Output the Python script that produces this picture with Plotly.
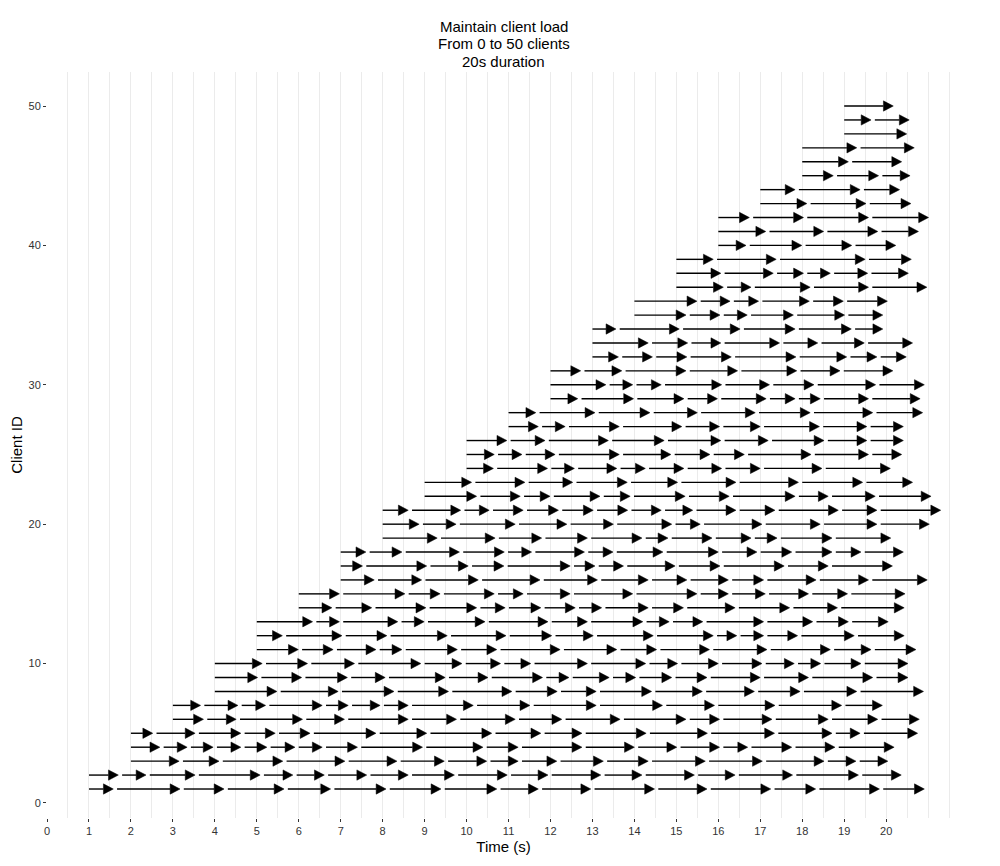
import plotly.graph_objects as go

# Client start times (s)
client_start = {
    1: 1, 2: 1, 3: 2, 4: 2, 5: 2, 6: 3, 7: 3, 8: 4, 9: 4, 10: 4,
    11: 5, 12: 5, 13: 5, 14: 6, 15: 6, 16: 7, 17: 7, 18: 7, 19: 8, 20: 8,
    21: 8, 22: 9, 23: 9, 24: 10, 25: 10, 26: 10, 27: 11, 28: 11, 29: 12, 30: 12,
    31: 12, 32: 13, 33: 13, 34: 13, 35: 14, 36: 14, 37: 15, 38: 15, 39: 15, 40: 16,
    41: 16, 42: 16, 43: 17, 44: 17, 45: 18, 46: 18, 47: 18, 48: 19, 49: 19, 50: 19,
}

# Response (end) times of each successive request per client (s)
request_ends = {
    1: [1.58, 3.17, 4.22, 5.65, 6.76, 8.08, 9.39, 10.72, 11.71, 12.96, 14.48, 15.73, 17.25, 18.32, 19.84, 20.91],
    2: [1.70, 2.36, 3.53, 5.08, 5.86, 6.61, 7.62, 8.61, 9.71, 10.97, 11.94, 13.20, 14.18, 15.43, 16.40, 17.77, 19.34, 20.36],
    3: [3.15, 4.10, 5.62, 7.10, 8.34, 9.47, 10.48, 11.23, 12.15, 13.26, 14.33, 15.69, 17.05, 18.52, 19.28, 20.04],
    4: [2.69, 3.34, 3.96, 4.62, 5.24, 5.91, 6.56, 7.40, 8.95, 10.39, 11.23, 12.75, 14.00, 15.01, 16.03, 16.70, 17.75, 18.78, 20.19],
    5: [2.52, 3.53, 4.62, 5.44, 6.27, 7.84, 9.05, 10.60, 11.77, 12.75, 14.28, 15.74, 17.34, 18.71, 19.38, 20.75],
    6: [3.73, 4.51, 6.09, 7.09, 8.61, 9.76, 11.16, 12.27, 13.66, 15.23, 16.03, 17.28, 18.62, 19.80, 20.79],
    7: [3.66, 4.55, 5.21, 6.56, 7.18, 7.94, 8.61, 10.16, 11.51, 13.09, 14.67, 15.91, 17.35, 18.94, 19.91],
    8: [5.48, 6.94, 8.27, 9.57, 11.08, 12.16, 13.09, 14.41, 15.62, 16.86, 17.95, 19.30, 20.89],
    9: [5.02, 6.07, 7.16, 8.06, 9.49, 10.51, 11.81, 12.44, 13.40, 14.03, 14.89, 15.73, 17.00, 18.15, 19.68, 20.52],
    10: [5.13, 6.21, 7.33, 8.91, 9.89, 10.81, 11.53, 12.88, 14.27, 15.03, 16.00, 17.04, 17.81, 18.44, 19.40, 20.52],
    11: [5.99, 6.82, 7.84, 8.46, 9.78, 10.72, 12.23, 13.58, 14.53, 15.79, 17.16, 18.67, 19.64, 20.71],
    12: [5.61, 7.03, 8.10, 9.54, 10.94, 12.03, 13.02, 14.45, 15.88, 16.44, 17.08, 17.89, 19.24, 20.43],
    13: [6.33, 6.97, 8.36, 8.99, 10.44, 11.94, 12.88, 14.20, 14.83, 15.63, 17.08, 18.25, 19.10, 20.05],
    14: [6.79, 7.74, 9.03, 10.24, 10.92, 11.77, 12.59, 13.22, 14.33, 15.17, 16.40, 17.70, 18.84, 20.43],
    15: [6.97, 8.53, 9.37, 10.66, 11.35, 12.47, 13.96, 15.49, 16.24, 17.12, 18.15, 19.08, 20.45],
    16: [7.80, 8.93, 10.28, 11.75, 13.12, 14.33, 15.25, 16.24, 17.08, 18.33, 19.58, 20.98],
    17: [7.52, 9.05, 10.04, 10.89, 12.47, 13.06, 13.74, 14.97, 16.04, 17.57, 18.62, 20.15],
    18: [7.60, 8.46, 9.83, 10.90, 11.55, 12.81, 13.49, 14.68, 16.00, 16.92, 17.75, 18.71, 19.40, 20.41],
    19: [9.30, 10.68, 11.79, 12.88, 14.18, 14.80, 15.85, 16.78, 17.40, 18.71, 20.11],
    20: [8.87, 9.75, 11.16, 12.39, 13.50, 14.89, 15.57, 17.04, 18.43, 19.78, 21.03],
    21: [8.61, 9.86, 10.54, 11.35, 12.19, 13.02, 13.84, 14.64, 15.39, 16.42, 17.35, 18.86, 19.78, 21.30],
    22: [10.24, 11.28, 11.99, 13.18, 13.90, 15.21, 16.26, 17.83, 18.62, 19.74, 21.07],
    23: [10.12, 11.39, 12.53, 13.83, 15.03, 16.42, 17.91, 19.44, 20.63],
    24: [10.64, 11.93, 12.57, 13.58, 14.26, 15.18, 16.08, 17.00, 18.47, 20.10],
    25: [10.66, 11.32, 12.11, 13.64, 14.87, 15.80, 16.62, 18.21, 19.58, 20.37],
    26: [10.96, 11.87, 13.38, 14.71, 16.06, 17.19, 18.52, 19.54, 20.41],
    27: [11.71, 12.35, 13.64, 15.13, 16.03, 17.00, 18.41, 19.54, 20.41],
    28: [11.65, 13.06, 14.37, 15.50, 16.88, 18.19, 19.68, 20.87],
    29: [12.65, 13.98, 15.18, 15.98, 17.14, 17.83, 18.43, 19.58, 20.81],
    30: [13.32, 13.96, 14.64, 16.08, 17.22, 18.28, 19.75, 20.91],
    31: [12.72, 13.70, 15.23, 16.46, 17.87, 18.90, 20.16],
    32: [13.62, 14.43, 15.25, 16.31, 17.85, 19.06, 19.78, 20.48],
    33: [14.33, 15.27, 16.06, 17.46, 18.37, 19.48, 20.63],
    34: [13.56, 15.07, 16.52, 17.83, 19.17, 19.92],
    35: [15.23, 16.04, 16.69, 17.79, 19.01, 19.92],
    36: [15.49, 16.28, 16.96, 18.17, 18.98, 20.03],
    37: [16.12, 16.78, 18.19, 19.58, 20.97],
    38: [16.06, 17.31, 18.03, 18.67, 19.56, 20.53],
    39: [15.88, 17.38, 19.50, 20.60],
    40: [16.66, 17.99, 19.18, 20.23],
    41: [17.13, 18.51, 19.80, 20.77],
    42: [16.74, 18.03, 19.58, 21.01],
    43: [18.11, 19.52, 20.59],
    44: [17.83, 19.38, 20.32],
    45: [18.74, 19.82, 20.57],
    46: [19.10, 20.37],
    47: [19.30, 20.67],
    48: [20.49],
    49: [19.64, 20.55],
    50: [20.17],
}

think_time = 0.09          # pause between a response and the next request (s)
x_ticks = list(range(0, 21))
y_ticks = [0, 10, 20, 30, 40, 50]
title_lines = ["Maintain client load", "From 0 to 50 clients", "20s duration"]

HEAD_LEN = 0.235   # arrowhead length in seconds
HEAD_HALF = 0.37   # arrowhead half height in client units

shaft_x, shaft_y, head_x, head_y = [], [], [], []
for cid, ends in request_ends.items():
    s = client_start[cid]
    for e in ends:
        base = e - HEAD_LEN
        shaft_x += [s, base, None]
        shaft_y += [cid, cid, None]
        head_x += [base, e, base, base, None]
        head_y += [cid + HEAD_HALF, cid, cid - HEAD_HALF, cid + HEAD_HALF, None]
        s = e + think_time

fig = go.Figure()
fig.add_trace(go.Scatter(x=shaft_x, y=shaft_y, mode="lines",
                         line=dict(color="black", width=1.4),
                         hoverinfo="skip", showlegend=False))
fig.add_trace(go.Scatter(x=head_x, y=head_y, mode="lines", fill="toself",
                         fillcolor="black", line=dict(color="black", width=0.5),
                         hoverinfo="skip", showlegend=False))

# plot area in figure pixels (page has an 8px body margin)
L, R, T, B = 39, 48, 64, 56
plot_h = 866 - T - B
for i, txt in enumerate(title_lines):
    center_px = 18.5 + 17.5 * i          # centre of line, from figure top
    fig.add_annotation(text=txt, xref="paper", yref="paper", x=0.5,
                       y=1 + (T - center_px) / plot_h, xanchor="center",
                       yanchor="middle", showarrow=False,
                       font=dict(size=15, color="black"))

grid_c = "#ebebeb"
fig.update_layout(
    width=1000, height=866,
    margin=dict(l=L, r=R, t=T, b=B),
    paper_bgcolor="white", plot_bgcolor="white",
    font=dict(family="Liberation Sans, Arial, sans-serif", color="black"),
    xaxis=dict(range=[0, 21.76], tickvals=x_ticks, ticktext=[str(v) for v in x_ticks],
               automargin=False,
               showgrid=True, gridcolor=grid_c, gridwidth=1,
               minor=dict(tickvals=[i * 0.5 for i in range(0, 44)], showgrid=True,
                          gridcolor=grid_c, gridwidth=1, ticks=""),
               ticks="outside", ticklen=3, tickcolor="#333333",
               tickfont=dict(size=11, color="#333333"),
               showline=False, zeroline=False,
               title=dict(text="Time (s)", font=dict(size=15), standoff=5)),
    yaxis=dict(range=[-1.08, 52.44], tickvals=y_ticks, automargin=False,
               showgrid=False, zeroline=False, showline=False,
               ticks="outside", ticklen=3, tickcolor="#333333",
               tickfont=dict(size=11, color="#333333"),
               title=dict(text="Client ID", font=dict(size=15), standoff=4)),
)

fig.write_html("out.html")
